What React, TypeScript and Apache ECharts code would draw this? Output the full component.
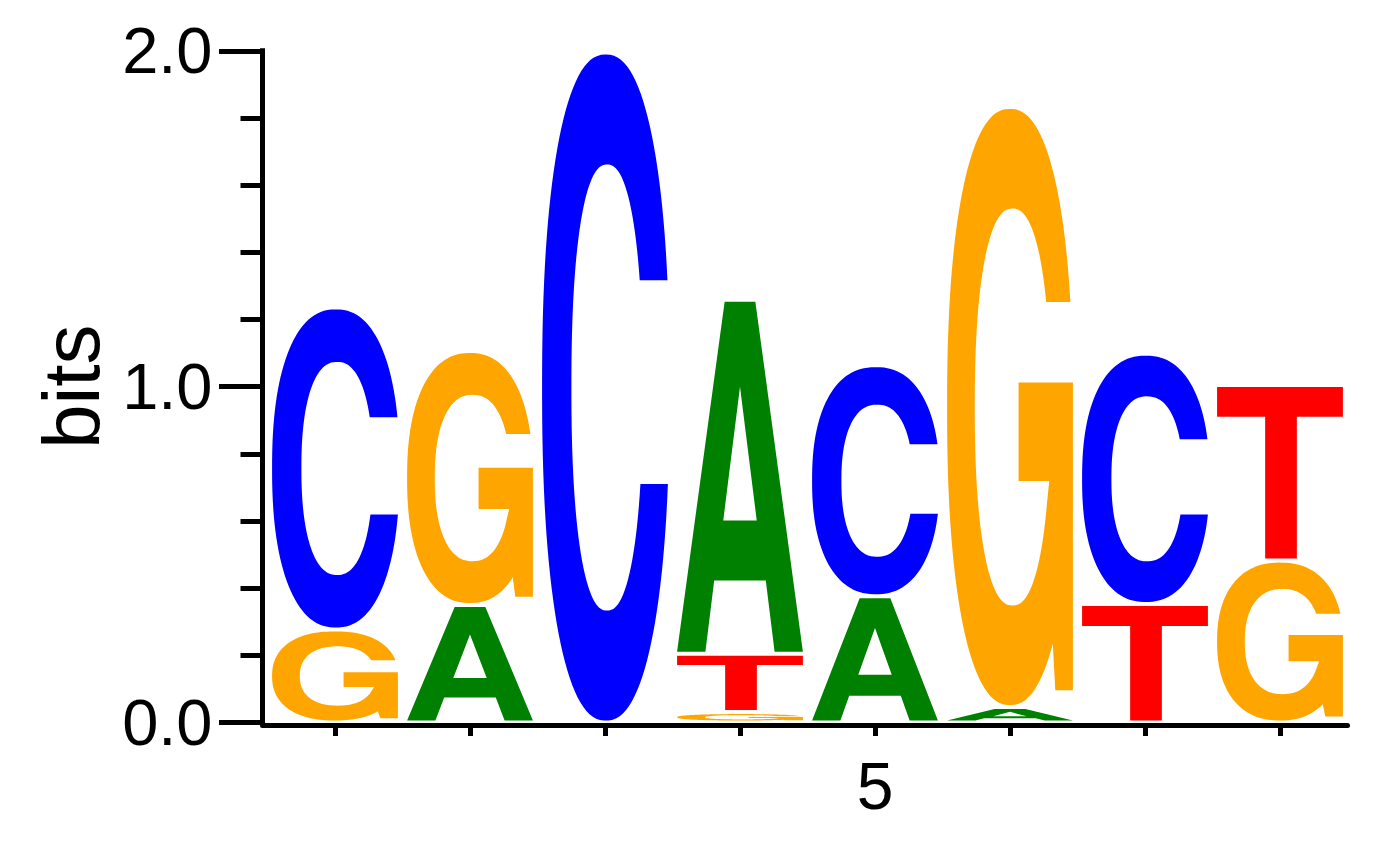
import React, { useEffect, useRef } from "react";
import * as echarts from "echarts";

// ---------------- data ----------------
const POSITIONS = [1, 2, 3, 4, 5, 6, 7, 8];
// letters of each stack, from bottom to top
const STACK_LETTERS = [
  ["G", "C"],
  ["A", "G"],
  ["C"],
  ["G", "T", "A"],
  ["A", "C"],
  ["A", "G"],
  ["T", "C"],
  ["G", "T"],
];
// heights (bits) of each letter, from bottom to top
const STACK_BITS = [
  [0.277, 0.959],
  [0.35, 0.756],
  [1.995],
  [0.031, 0.174, 1.054],
  [0.376, 0.688],
  [0.046, 1.787],
  [0.353, 0.745],
  [0.482, 0.523],
];
const Y_TICKS = [0, 1, 2];
const X_TICKS = [1, 2, 3, 4, 5, 6, 7, 8];
const X_LABELS = [5];

const LETTER_COLORS: Record<string, string> = {
  A: "#008000",
  C: "#0000ff",
  G: "#ffa500",
  T: "#ff0000",
};
const LETTERS = ["A", "C", "G", "T"];

// ---------------- glyph outlines (unit box 0..100) ----------------
const N = 2.3;
function sp(cx: number, cy: number, rx: number, ry: number, t: number): [number, number] {
  const c = Math.cos(t);
  const s = Math.sin(t);
  const e = 2 / N;
  return [
    cx + rx * Math.sign(c) * Math.pow(Math.abs(c), e),
    cy - ry * Math.sign(s) * Math.pow(Math.abs(s), e),
  ];
}
function angAtY(cy: number, ry: number, y: number): number {
  const v = Math.min(1, Math.abs((cy - y) / ry));
  return Math.asin(Math.pow(v, N / 2));
}
function fmt(pts: [number, number][]): string {
  return pts.map((p, i) => (i === 0 ? "M" : "L") + (p[0] * 100).toFixed(2) + " " + (p[1] * 100).toFixed(2)).join(" ") + " Z";
}
function arc(cx: number, cy: number, rx: number, ry: number, t0: number, t1: number, steps: number) {
  const pts: [number, number][] = [];
  for (let i = 0; i <= steps; i++) {
    pts.push(sp(cx, cy, rx, ry, t0 + ((t1 - t0) * i) / steps));
  }
  return pts;
}
function glyphC(): string {
  const cutU = 0.339;
  const cutL = 0.645;
  const tOU = angAtY(0.5, 0.5, cutU);
  const tOL = 2 * Math.PI - angAtY(0.5, 0.5, cutL);
  const icx = 0.51, icy = 0.5, irx = 0.28, iry = 0.335;
  const tIU = angAtY(icy, iry, cutU);
  const tIL = 2 * Math.PI - angAtY(icy, iry, cutL);
  const pts = [...arc(0.5, 0.5, 0.5, 0.5, tOU, tOL, 120), ...arc(icx, icy, irx, iry, tIL, tIU, 100)];
  return fmt(pts);
}
function glyphG(): string {
  const cutU = 0.324;
  const tOU = angAtY(0.5, 0.5, cutU);
  const cE = Math.pow((0.84 - 0.5) / 0.5, N / 2);
  const tE = 2 * Math.PI - Math.acos(cE);
  const icx = 0.52, icy = 0.5, irx = 0.3, iry = 0.333;
  const tIS = 2 * Math.PI - angAtY(icy, iry, 0.66);
  const tIU = angAtY(icy, iry, cutU);
  const pts: [number, number][] = [
    ...arc(0.5, 0.5, 0.5, 0.5, tOU, tE, 120),
    [0.86, 0.975],
    [1.0, 0.975],
    [1.0, 0.459],
    [0.568, 0.459],
    [0.568, 0.624],
    [0.812, 0.624],
    ...arc(icx, icy, irx, iry, tIS, tIU, 100),
  ];
  return fmt(pts);
}
const GLYPH_A =
  "M0 100 L37.8 0 L62.2 0 L100 100 L77.5 100 L70.5 79.7 L29.5 79.7 L22.5 100 Z " +
  "M50 24.3 L36.7 62.5 L63.3 62.5 Z";
const GLYPH_T = "M0 0 L100 0 L100 17.4 L63.4 17.4 L63.4 100 L38.2 100 L38.2 17.4 L0 17.4 Z";
const GLYPHS: Record<string, string> = {
  A: GLYPH_A,
  C: glyphC(),
  G: glyphG(),
  T: GLYPH_T,
};

const FONT = "'Liberation Sans', Arial, Helvetica, sans-serif";
const HALF_W = 0.466;
const INSET = 2;

export default function App() {
  const ref = useRef<HTMLDivElement>(null);
  useEffect(() => {
    if (!ref.current) return;
    const chart = echarts.init(ref.current, undefined, { renderer: "svg" });

    const items: any[] = [];
    POSITIONS.forEach((p, i) => {
      let base = 0;
      STACK_LETTERS[i].forEach((L, j) => {
        const h = STACK_BITS[i][j];
        items.push({ value: [p, base, base + h, LETTERS.indexOf(L)] });
        base += h;
      });
    });

    chart.setOption({
      animation: false,
      backgroundColor: "#ffffff",
      grid: { left: 262.5, right: 44.5, top: 50.8, bottom: 119.5, containLabel: false },
      xAxis: {
        type: "value",
        min: 0.463,
        max: 8.5,
        offset: 2.5,
        splitLine: { show: false },
        axisLine: { show: true, onZero: false, lineStyle: { color: "#000", width: 5 } },
        axisTick: {
          show: true,
          customValues: X_TICKS,
          length: 11,
          lineStyle: { color: "#000", width: 5 },
        },
        axisLabel: {
          show: true,
          customValues: X_LABELS,
          formatter: (v: number) => String(v),
          color: "#000",
          fontSize: 66,
          fontFamily: FONT,
          margin: 28,
        },
      },
      yAxis: {
        type: "value",
        min: 0,
        max: 2,
        interval: 1,
        name: "bits",
        nameLocation: "middle",
        nameRotate: 90,
        nameGap: 146,
        nameTextStyle: { color: "#000", fontSize: 80, fontFamily: FONT },
        splitLine: { show: false },
        axisLine: { show: true, lineStyle: { color: "#000", width: 5, cap: "square" } },
        axisTick: { show: true, length: 43.5, lineStyle: { color: "#000", width: 5 } },
        minorTick: { show: true, splitNumber: 5, length: 22, lineStyle: { color: "#000", width: 5 } },
        axisLabel: {
          show: true,
          customValues: Y_TICKS,
          formatter: (v: number) => v.toFixed(1),
          color: "#000",
          fontSize: 65,
          fontFamily: FONT,
          margin: 50,
        },
      },
      series: [
        {
          type: "custom",
          coordinateSystem: "cartesian2d",
          clip: false,
          encode: { x: 0, y: [1, 2] },
          data: items,
          renderItem: (params: any, api: any) => {
            const x = api.value(0);
            const y0 = api.value(1);
            const y1 = api.value(2);
            const L = LETTERS[api.value(3)];
            const p0 = api.coord([x - HALF_W, y1]);
            const p1 = api.coord([x + HALF_W, y0]);
            let top = p0[1] + INSET;
            let bot = p1[1] - INSET;
            if (bot - top < 1) {
              const m = (top + bot) / 2;
              top = m - 0.5;
              bot = m + 0.5;
            }
            return {
              type: "path",
              shape: {
                pathData: GLYPHS[L],
                x: p0[0],
                y: top,
                width: p1[0] - p0[0],
                height: bot - top,
                layout: "cover",
              },
              style: { fill: LETTER_COLORS[L], stroke: null },
            };
          },
        },
      ],
    });
    return () => chart.dispose();
  }, []);
  return (
    <div
      ref={ref}
      style={{ position: "fixed", left: 0, top: 0, width: 1392, height: 842, background: "#fff" }}
    />
  );
}
